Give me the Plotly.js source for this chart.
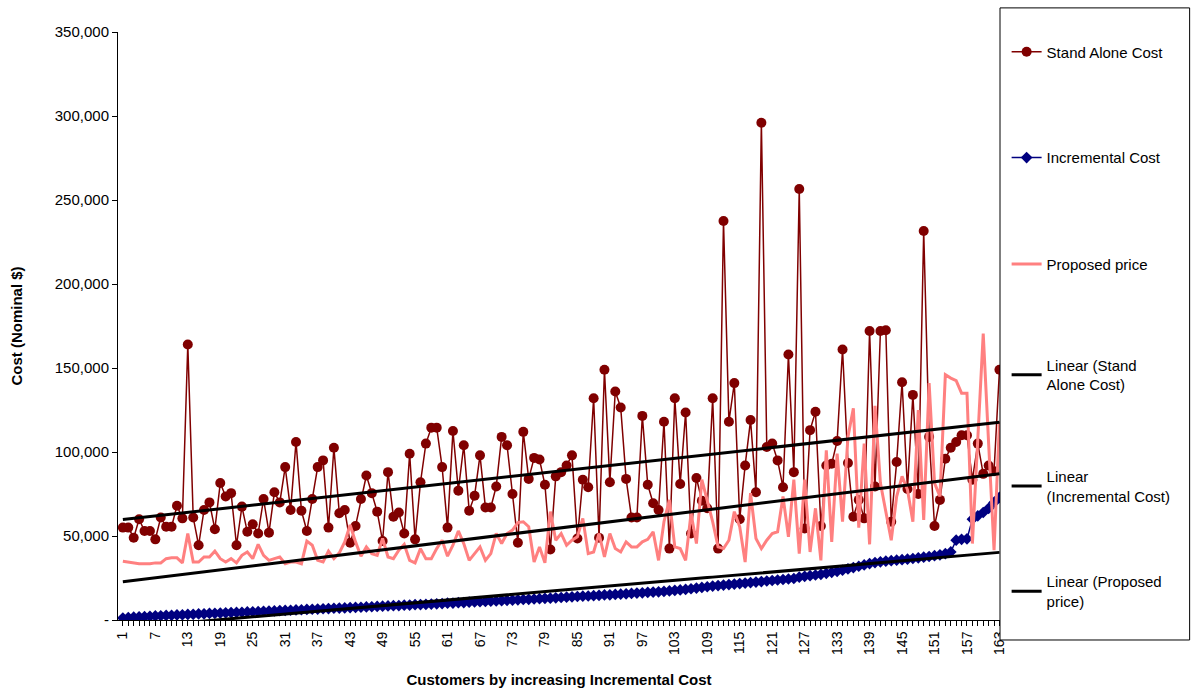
<!DOCTYPE html>
<html>
<head>
<meta charset="utf-8">
<script src="https://cdn.plot.ly/plotly-3.0.1.min.js"></script>
<style>
  html, body { margin: 0; padding: 0; background: #fff; }
  #myDiv { width: 1191px; height: 690px; }
</style>
</head>
<body>
<div id="myDiv"></div>
<script>
// clientes 1..163, ordenados pelo custo incremental
var customers = [];
for (var c = 1; c <= 163; c++) customers.push(c);

var standAloneCost = [
  55000, 55000, 49000, 60000, 53000, 53000, 48000, 61000, 55500, 55500,
  68000, 60500, 164000, 61000, 44500, 65500, 70000, 54000, 81500, 73500,
  75500, 44500, 67500, 52500, 57000, 51500, 72000, 52000, 76000, 70000,
  91000, 65500, 106000, 65000, 53000, 72000, 91000, 95000, 55000, 102500,
  63500, 65500, 46000, 56000, 72000, 86000, 75500, 64500, 47000, 88000,
  61500, 64000, 51500, 99000, 48000, 82000, 105000, 114500, 114500, 91000,
  55000, 112500, 77000, 104000, 65000, 74000, 98000, 67000, 67000, 79500,
  109000, 104000, 75000, 46000, 112000, 84000, 96500, 95500, 80500, 42000,
  85500, 88000, 92000, 98000, 48500, 83500, 79000, 132000, 49000, 149000,
  82000, 136000, 126500, 84000, 61000, 61000, 121500, 80500, 69500, 65500,
  118000, 42500, 132000, 81000, 123500, 51500, 84500, 71000, 66500, 132000,
  42500, 237500, 118000, 141000, 60000, 92000, 119000, 76000, 296000, 103000,
  105000, 95000, 79000, 158000, 88000, 256500, 54500, 113000, 124000, 56000,
  92000, 93000, 106500, 161000, 93500, 61500, 71500, 60500, 172000, 79500,
  172000, 172500, 58500, 94000, 141500, 78000, 134000, 75000, 231500, 109000,
  56000, 71500, 96000, 102500, 106000, 110000, 110000, 83500, 105000, 87000,
  92000, 88500, 149000
];

var incrementalCost = [
  1200, 1500, 1700, 1900, 2000, 2200, 2400, 2500, 2700, 2800,
  3000, 3100, 3300, 3400, 3600, 3700, 3900, 4000, 4100, 4300,
  4400, 4500, 4600, 4800, 4900, 5000, 5200, 5300, 5400, 5600,
  5700, 5800, 6000, 6100, 6300, 6400, 6500, 6700, 6800, 7000,
  7100, 7200, 7400, 7500, 7600, 7800, 7900, 8100, 8200, 8400,
  8500, 8600, 8800, 8900, 9100, 9200, 9300, 9500, 9600, 9800,
  10000, 10100, 10300, 10400, 10600, 10700, 10900, 11000, 11200, 11300,
  11500, 11700, 11800, 12000, 12200, 12300, 12500, 12700, 12900, 13000,
  13200, 13400, 13600, 13800, 14000, 14200, 14300, 14500, 14700, 14900,
  15000, 15200, 15400, 15600, 15800, 16000, 16200, 16400, 16600, 16800,
  17000, 17300, 17600, 17900, 18200, 18600, 19000, 19400, 19800, 20200,
  20500, 20800, 21100, 21400, 21700, 22000, 22300, 22600, 22900, 23200,
  23500, 23800, 24100, 24400, 24700, 25500, 26000, 26400, 26800, 27200,
  27800, 28400, 29000, 29600, 30400, 31200, 32000, 32800, 33600, 34200,
  34600, 35000, 35300, 35600, 35900, 36200, 36600, 37000, 37400, 37800,
  38300, 38800, 39500, 40500, 47500, 48000, 48300, 60000, 62000, 64000,
  66500, 70000, 73000
];

var proposedPrice = [
  35000, 34500, 34000, 33500, 33500, 33500, 34000, 34000, 36500, 37000,
  37000, 34000, 51500, 34500, 34500, 37500, 37500, 41000, 36500, 34500,
  36500, 34000, 38500, 40500, 36500, 45000, 38500, 35500, 36500, 37500,
  33500, 34500, 34500, 33500, 47000, 44500, 35500, 34500, 41000, 36500,
  40000, 46500, 56500, 46500, 38000, 43500, 39500, 38500, 48500, 37500,
  36500, 41500, 45000, 35500, 34000, 42500, 36500, 36500, 42500, 47500,
  38000, 44500, 53000, 45500, 35500, 39500, 43500, 35500, 39500, 51500,
  45500, 51500, 53500, 58000, 58500, 55500, 34500, 43500, 34000, 64500,
  47500, 51500, 44500, 47500, 49500, 60500, 39500, 40500, 51500, 37500,
  51500, 42500, 40500, 46500, 43500, 43500, 46500, 48000, 52500, 35500,
  58500, 71500, 43500, 42500, 35500, 63500, 45500, 83500, 71500, 58500,
  43500, 42500, 47500, 64500, 55500, 34500, 75500, 48500, 42500, 47500,
  51500, 52500, 73500, 49500, 83500, 39500, 83500, 40500, 66500, 35500,
  101000, 46500, 99000, 58500, 109000, 126000, 55000, 105000, 45000, 127500,
  81500, 65500, 47500, 73500, 85500, 77500, 58500, 125000, 59500, 141000,
  81500, 73500, 146000, 144000, 142500, 135000, 135000, 45500, 109000, 170500,
  105000, 41500, 118000
];

var yTickVals = [0, 50000, 100000, 150000, 200000, 250000, 300000, 350000];
var yTickText = ['-', '50,000', '100,000', '150,000', '200,000', '250,000', '300,000', '350,000'];

// linha de tendência linear (mínimos quadrados), como o Excel faz
function linearTrend(xs, ys) {
  var n = xs.length, sx = 0, sy = 0, sxy = 0, sxx = 0;
  for (var i = 0; i < n; i++) {
    sx += xs[i]; sy += ys[i]; sxy += xs[i] * ys[i]; sxx += xs[i] * xs[i];
  }
  var b = (n * sxy - sx * sy) / (n * sxx - sx * sx);
  var a = (sy - b * sx) / n;
  return xs.map(function (x) { return a + b * x; });
}

var font = 'Liberation Sans, Arial, sans-serif';

var trace1 = {
  x: customers, y: standAloneCost, type: 'scatter', mode: 'lines+markers',
  name: 'Stand Alone Cost', legend: 'legend',
  line: { color: '#800000', width: 1.5 },
  marker: { symbol: 'circle', size: 10, color: '#800000' }
};
var trace2 = {
  x: customers, y: incrementalCost, type: 'scatter', mode: 'lines+markers',
  name: 'Incremental Cost', legend: 'legend2',
  line: { color: '#000080', width: 1.5 },
  marker: { symbol: 'diamond', size: 9, color: '#000080' }
};
var trace3 = {
  x: customers, y: proposedPrice, type: 'scatter', mode: 'lines',
  name: 'Proposed price', legend: 'legend3',
  line: { color: '#FF8080', width: 3 }
};
var trend = function (ys, name, lg) {
  return {
    x: customers, y: linearTrend(customers, ys), type: 'scatter', mode: 'lines',
    name: name, legend: lg, line: { color: '#000000', width: 3 }
  };
};

var data = [
  trace1, trace2, trace3,
  trend(standAloneCost, 'Linear (Stand<br>Alone Cost)', 'legend4'),
  trend(incrementalCost, 'Linear<br>(Incremental Cost)', 'legend5'),
  trend(proposedPrice, 'Linear (Proposed<br>price)', 'legend6')
];

// uma legenda por série, espaçadas como no Excel
function legendAt(yPaper) {
  return {
    x: 1.0075, xanchor: 'left', y: yPaper, yanchor: 'middle',
    bgcolor: 'rgba(0,0,0,0)', borderwidth: 0,
    font: { family: font, size: 15, color: '#000000' }
  };
}

var layout = {
  width: 1191, height: 690,
  margin: { l: 118, r: 191, t: 32, b: 70 },
  paper_bgcolor: '#ffffff', plot_bgcolor: '#ffffff',
  font: { family: font, size: 15, color: '#000000' },
  showlegend: true,
  legend: legendAt(0.966),
  legend2: legendAt(0.786),
  legend3: legendAt(0.605),
  legend4: legendAt(0.417),
  legend5: legendAt(0.228),
  legend6: legendAt(0.049),
  xaxis: {
    range: [0.1, 163.1], showgrid: false, zeroline: false,
    showline: true, linecolor: '#000000', linewidth: 1,
    tickmode: 'array',
    tickvals: customers,
    ticktext: customers.map(function (c) { return (c - 1) % 6 === 0 ? String(c) : ''; }),
    ticks: 'outside', ticklen: 5, tickcolor: '#000000', tickangle: -90,
    tickfont: { family: font, size: 14 },
    title: { text: '<b>Customers by increasing Incremental Cost</b>', standoff: 20, font: { family: font, size: 15 } }
  },
  yaxis: {
    range: [0, 350000], showgrid: false, zeroline: false,
    showline: true, linecolor: '#000000', linewidth: 1,
    tickmode: 'array', tickvals: yTickVals, ticktext: yTickText,
    ticks: 'outside', ticklen: 5, tickcolor: '#000000',
    tickfont: { family: font, size: 15 },
    title: { text: '<b>Cost (Nominal $)</b>', standoff: 28, font: { family: font, size: 15 } }
  },
  shapes: [{
    type: 'rect', xref: 'paper', yref: 'paper', layer: 'above',
    x0: 1.0, x1: 1.215, y0: -0.034, y1: 1.041,
    fillcolor: '#ffffff', line: { color: '#000000', width: 1 }
  }]
};

Plotly.newPlot('myDiv', data, layout, { staticPlot: true });
</script>
</body>
</html>
